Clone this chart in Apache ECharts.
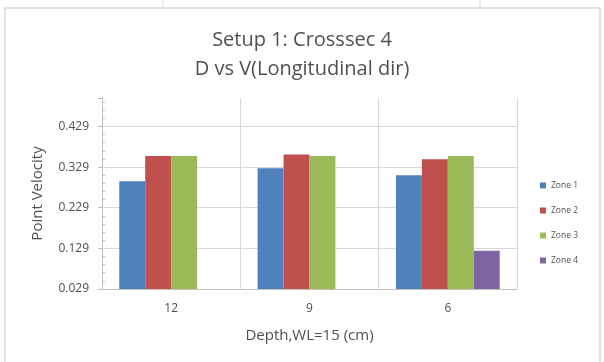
<!DOCTYPE html>
<html><head><meta charset="utf-8">
<script src="https://cdn.jsdelivr.net/npm/echarts@6/dist/echarts.min.js"></script>
<style>html,body{margin:0;padding:0;background:#fff}#c{width:604px;height:362px}</style>
</head><body><div id="c"></div>
<script>
const categories = ['12', '9', '6'];
const seriesNames = ['Zone 1', 'Zone 2', 'Zone 3', 'Zone 4'];
const zone1 = [0.294, 0.326, 0.309];
const zone2 = [0.356, 0.360, 0.348];
const zone3 = [0.356, 0.356, 0.356];
const zone4 = [null, null, 0.123];
const colors = ['#4f81bd', '#c0504d', '#9bbb59', '#8064a2'];
const yMin = 0.029, yMax = 0.499, yStep = 0.1;

const chart = echarts.init(document.getElementById('c'));
const font = 'Open Sans';
const data = [zone1, zone2, zone3, zone4];
chart.setOption({
  animation: false,
  backgroundColor: '#fff',
  textStyle: {fontFamily: font},
  title: {
    text: 'Setup 1: Crosssec 4\nD vs V(Longitudinal dir)',
    left: 'center', top: 21,
    textStyle: {fontFamily: font, fontSize: 20, fontWeight: 'normal', color: '#505050', lineHeight: 29}
  },
  graphic: [
    {type: 'rect', shape: {x: 5, y: 8, width: 595, height: 370}, style: {fill: 'none', stroke: '#d9d9d9', lineWidth: 1.5}, silent: true},
    {type: 'line', shape: {x1: 163, y1: 0, x2: 163, y2: 8}, style: {stroke: '#d9d9d9', lineWidth: 1}},
    {type: 'line', shape: {x1: 480, y1: 0, x2: 480, y2: 8}, style: {stroke: '#d9d9d9', lineWidth: 1}}
  ],
  legend: {
    orient: 'vertical', left: 540, top: 181, padding: 0,
    itemWidth: 6, itemHeight: 6, itemGap: 16,
    icon: 'rect',
    textStyle: {fontFamily: font, fontSize: 8.5, color: '#505050'},
    data: seriesNames
  },
  grid: {left: 102, right: 87, top: 98, bottom: 73},
  xAxis: {
    type: 'category', data: categories,
    name: 'Depth,WL=15 (cm)', nameLocation: 'middle', nameGap: 39,
    nameTextStyle: {fontFamily: font, fontSize: 15, color: '#505050'},
    axisLine: {lineStyle: {color: '#bfbfbf'}},
    axisTick: {show: false},
    axisLabel: {fontSize: 12, color: '#505050', margin: 14},
    splitLine: {show: true, lineStyle: {color: '#d9d9d9'}}
  },
  yAxis: {
    type: 'value', min: yMin, max: yMax, interval: yStep,
    name: 'Point Velocity', nameLocation: 'middle', nameGap: 57,
    nameTextStyle: {fontFamily: font, fontSize: 15, color: '#505050'},
    axisLine: {show: true, lineStyle: {color: '#bfbfbf'}},
    axisTick: {show: true, length: 4, lineStyle: {color: '#bfbfbf'}},
    minorTick: {show: true, splitNumber: 5, length: -3, lineStyle: {color: '#bfbfbf'}},
    axisLabel: {fontSize: 12, color: '#505050', margin: 13, showMaxLabel: false,
      formatter: v => v.toFixed(3)},
    splitLine: {show: true, showMaxLine: false, lineStyle: {color: '#d9d9d9'}}
  },
  series: seriesNames.map((n, i) => ({
    name: n, type: 'bar', data: data[i],
    itemStyle: {color: colors[i]},
    barGap: '0%', barCategoryGap: '25%'
  }))
});
</script></body></html>
